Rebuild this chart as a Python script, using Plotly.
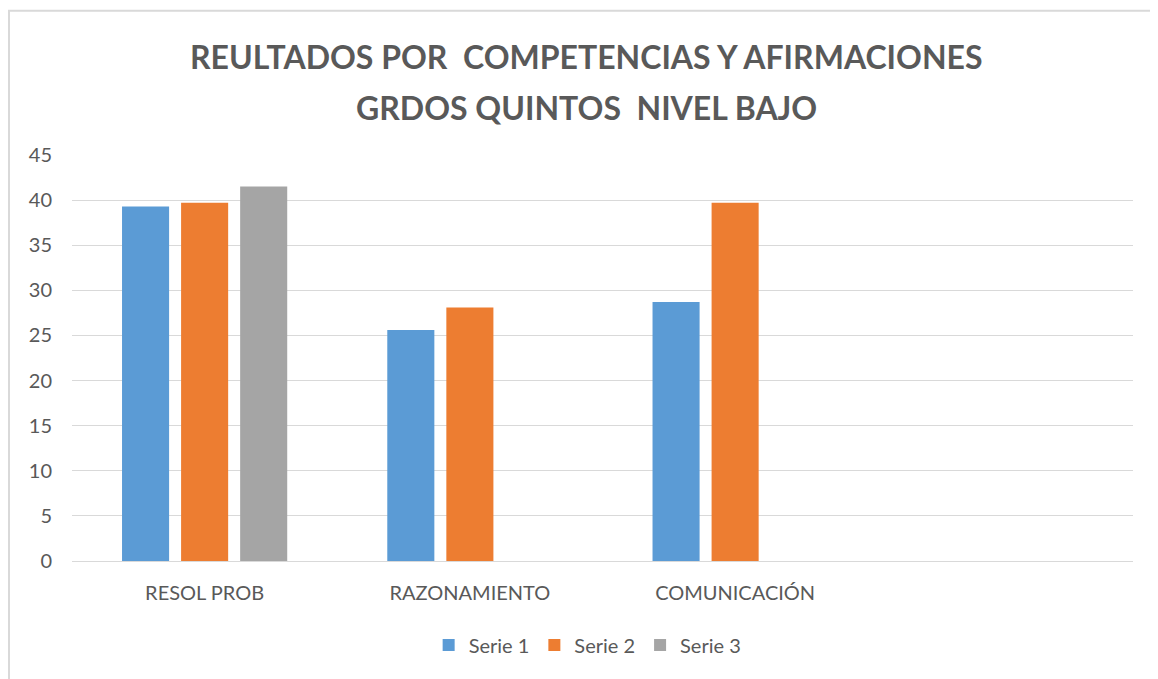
import plotly.graph_objects as go

categories = ["RESOL PROB", "RAZONAMIENTO", "COMUNICACIÓN", " "]
serie1 = [39.3, 25.6, 28.7, None]
serie2 = [39.7, 28.1, 39.7, None]
serie3 = [41.5, None, None, None]
y_ticks = [0, 5, 10, 15, 20, 25, 30, 35, 40, 45]
title_lines = ["REULTADOS POR\u00a0 COMPETENCIAS Y AFIRMACIONES", "GRDOS QUINTOS\u00a0 NIVEL BAJO"]

colors = ["#5B9BD5", "#ED7D31", "#A5A5A5"]
names = ["Serie 1", "Serie 2", "Serie 3"]
grey = "#595959"

fig = go.Figure()
for name, vals, col in zip(names, [serie1, serie2, serie3], colors):
    fig.add_trace(go.Bar(x=categories, y=vals, name=name, marker=dict(color=col, line=dict(width=0))))

# page body has an 8px margin, so the figure is sized 8px smaller
fig.update_layout(
    width=1150, height=671,
    paper_bgcolor="white", plot_bgcolor="white",
    font=dict(family="Lato, Open Sans, sans-serif", color=grey),
    barmode="group", bargap=0.332, bargroupgap=0.203,
    margin=dict(l=64, r=25, t=147, b=118),
    legend=dict(orientation="h", x=0.486, xanchor="center", y=-0.207, yanchor="middle",
                font=dict(size=20, color=grey)),
    showlegend=True,
)
for txt, yy in zip(title_lines, [1.2438, 1.118]):
    fig.add_annotation(text="<b>" + txt + "</b>", xref="paper", yref="paper", x=0.485, y=yy,
                       xanchor="center", yanchor="middle", showarrow=False,
                       font=dict(size=32, color=grey))

fig.update_xaxes(showgrid=False, showline=False, ticks="", tickfont=dict(size=20, color=grey),
                 ticklabelstandoff=18)
fig.update_yaxes(range=[0, 45], tickvals=y_ticks, showgrid=True, gridcolor="#D9D9D9", gridwidth=1,
                 zeroline=True, zerolinecolor="#D9D9D9", zerolinewidth=1,
                 tickfont=dict(size=20, color=grey), ticklabelstandoff=19)

fig.add_shape(type="rect", xref="paper", yref="paper", x0=-0.0594, x1=1.05, y0=-0.35, y1=1.355,
              line=dict(color="#D9D9D9", width=2), fillcolor="rgba(0,0,0,0)", layer="below")

fig.write_html("out.html")
